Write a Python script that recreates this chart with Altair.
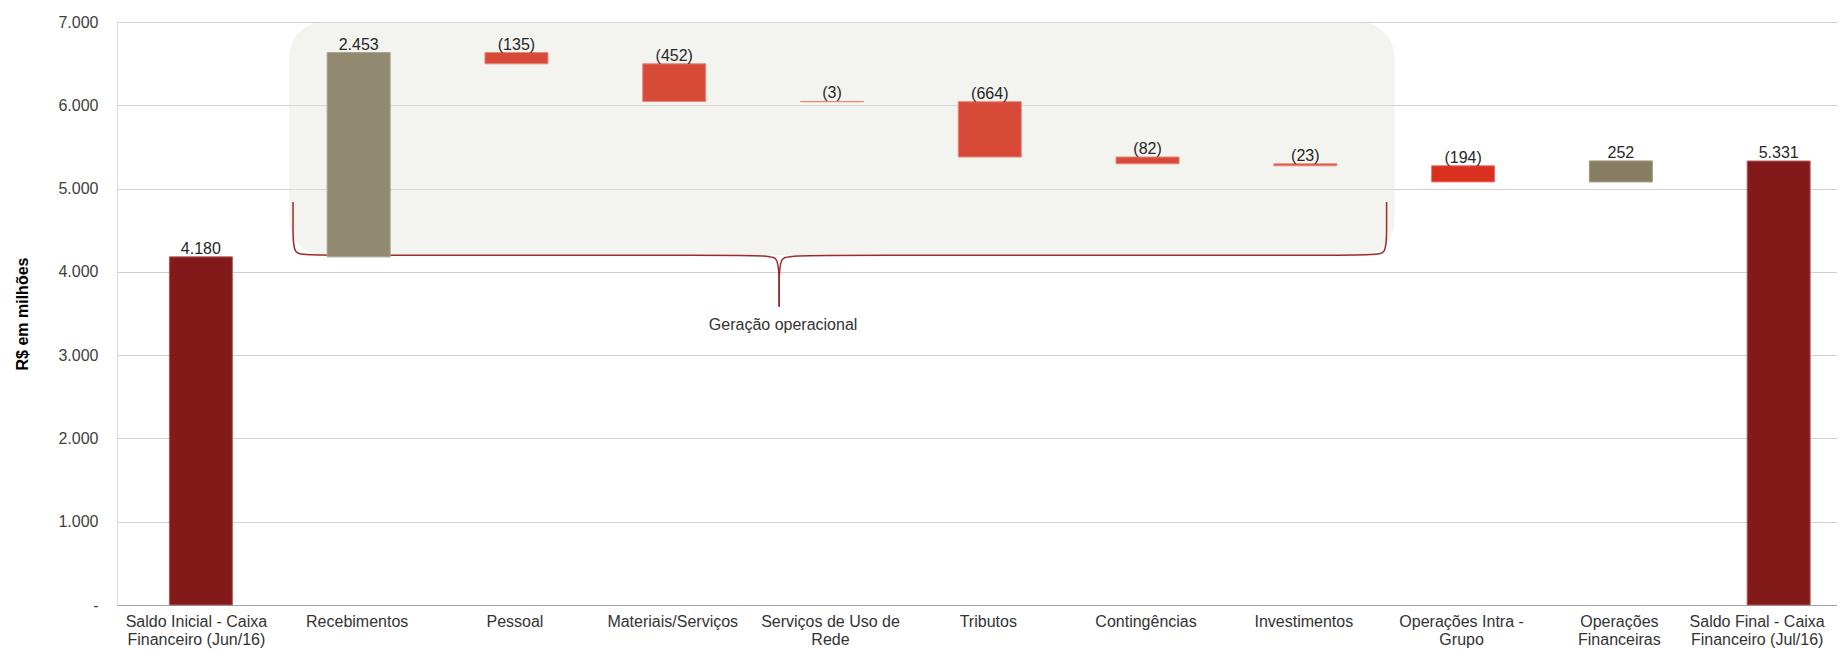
import json
import altair as alt
import pandas as pd

# ---------------- data ----------------
categories = [
    "Saldo Inicial - Caixa Financeiro (Jun/16)", "Recebimentos", "Pessoal",
    "Materiais/Serviços", "Serviços de Uso de Rede", "Tributos", "Contingências",
    "Investimentos", "Operações Intra - Grupo", "Operações Financeiras",
    "Saldo Final - Caixa Financeiro (Jul/16)",
]
tick_labels = [
    ["Saldo Inicial - Caixa", "Financeiro (Jun/16)"], ["Recebimentos"], ["Pessoal"],
    ["Materiais/Serviços"], ["Serviços de Uso de", "Rede"], ["Tributos"], ["Contingências"],
    ["Investimentos"], ["Operações Intra -", "Grupo"], ["Operações", "Financeiras"],
    ["Saldo Final - Caixa", "Financeiro (Jul/16)"],
]
values = [4180, 2453, -135, -452, -3, -664, -82, -23, -194, 252, 5331]
kinds = ["total", "entrada_op", "saida_op", "saida_op", "saida_op", "saida_op",
         "saida_op", "saida_op", "saida", "entrada", "total"]
y_ticks = [0, 1000, 2000, 3000, 4000, 5000, 6000, 7000]

group_label = "Geração operacional"
y_title = "R$ em milhões"

# ---------------- styling ----------------
FONT = "Liberation Sans"
FS = 16
kind_domain = ["total", "entrada_op", "saida_op", "saida", "entrada"]
kind_fill = ["#821A1A", "#928A70", "#D64A37", "#D9301F", "#877D62"]
kind_stroke = ["#B06060", "#A8A18A", "#E8877B", "#E8776B", "#A09A84"]

PLOT_W, PLOT_H = 1720, 583
STEP = 158.7  # px per category
x_max = PLOT_W / STEP - 0.5

# ---------------- derived tables ----------------
rows = []
level = 0
for i, (cat, v, k) in enumerate(zip(categories, values, kinds)):
    if k == "total":
        low, high = 0, v
        level = v
    else:
        low, high = level, level + v
        level = high
    lab = f"{v:,}".replace(",", ".") if v >= 0 else f"({abs(v)})"
    rows.append({"x": i, "cat": cat, "low": low, "high": high, "kind": k,
                 "label": lab, "ly": max(low, high)})
bars_df = pd.DataFrame(rows)

# annotation geometry (in data units: category index / R$ value)
g_x0, g_x1, g_top, g_bottom = 0.559, 7.565, 7000, 4200
b_l, b_m, b_r = 0.584, 3.665, 7.515
b_top, b_lvl, b_tip = 4840, 4200, 3580
e_rx, e_ry, c_rx, c_ry = 0.10, 300, 0.09, 400

brace_pts = []
for half, xe, sgn in (("l", b_l, 1), ("r", b_r, -1)):
    pts = [(xe, b_top), (xe, b_lvl + e_ry), (xe, b_lvl), (xe + sgn * e_rx, b_lvl),
           (b_m - sgn * c_rx, b_lvl), (b_m, b_lvl), (b_m, b_lvl - c_ry), (b_m, b_tip)]
    for j, (px, py) in enumerate(pts):
        brace_pts.append({"x": px, "y": py, "half": half, "o": j})
brace_df = pd.DataFrame(brace_pts)

rect_df = pd.DataFrame({"x": [g_x0], "x2": [g_x1], "y": [g_top], "y2": [g_bottom]})
text_df = pd.DataFrame({"x": [3.69], "y": [3367], "t": [group_label]})

# ---------------- scales / axes ----------------
xscale = alt.Scale(domain=[-0.5, x_max], nice=False, zero=False)
yscale = alt.Scale(domain=[0, 7000], nice=False)

label_expr_x = json.dumps(tick_labels, ensure_ascii=False) + "[datum.value]"
xaxis = alt.Axis(
    values=list(range(len(categories))), labelExpr=label_expr_x, title=None,
    ticks=False, grid=False, domainColor="#A6A6A6", domainWidth=1,
    labelPadding=8, labelFontSize=FS, labelLineHeight=18.5, labelColor="#333333",
    labelFont=FONT, labelOverlap=False, labelFlush=False, labelAlign="center",
    labelBaseline="top",
    labelOffset={"condition": [{"test": "datum.value == 10", "value": -22},
                               {"test": "datum.value == 0", "value": -5}],
                 "value": -2},
)
yaxis = alt.Axis(
    values=y_ticks,
    labelExpr="datum.value == 0 ? '-' : replace(format(datum.value, ','), ',', '.')",
    title=y_title, titleFontWeight="bold", titleFontSize=FS, titleColor="#000000",
    titleFont=FONT, titlePadding=27, labelPadding=19, ticks=False, domain=False,
    gridColor="#D0D0D0", gridWidth=1, labelFontSize=FS, labelColor="#404040",
    labelFont=FONT,
)

X = alt.X("x:Q", scale=xscale, axis=xaxis)
Y = alt.Y("y:Q", scale=yscale, axis=yaxis)

rect = alt.Chart(rect_df).mark_rect(
    cornerRadius=35, fill="#E2E2DA", fillOpacity=0.42
).encode(x=X, x2="x2:Q", y=Y, y2="y2:Q")

brace = alt.Chart(brace_df).mark_line(
    interpolate="basis", color="#9E2A2B", strokeWidth=1.5
).encode(x=X, y=Y, detail="half:N", order="o:Q")

bars = alt.Chart(bars_df).mark_bar(size=63, strokeWidth=1).encode(
    x=X,
    y=alt.Y("low:Q", scale=yscale, axis=yaxis),
    y2="high:Q",
    color=alt.Color("kind:N", scale=alt.Scale(domain=kind_domain, range=kind_fill), legend=None),
    stroke=alt.Stroke("kind:N", scale=alt.Scale(domain=kind_domain, range=kind_stroke), legend=None),
)

labels = alt.Chart(bars_df).mark_text(
    baseline="alphabetic", dy=-3, fontSize=FS, font=FONT, color="#262626"
).encode(x=X, y=alt.Y("ly:Q", scale=yscale, axis=yaxis), text="label:N")

group_text = alt.Chart(text_df).mark_text(
    baseline="middle", align="center", fontSize=FS, font=FONT, color="#333333"
).encode(x=X, y=Y, text="t:N")

chart = alt.layer(rect, brace, bars, labels, group_text).properties(
    width=PLOT_W, height=PLOT_H,
    autosize=alt.AutoSizeParams(type="none"),
    padding={"left": 109, "top": 14, "right": 0, "bottom": 45},
).configure_view(stroke=None).configure(font=FONT)

chart.save("out.html", embed_options={"renderer": "svg", "actions": False})
